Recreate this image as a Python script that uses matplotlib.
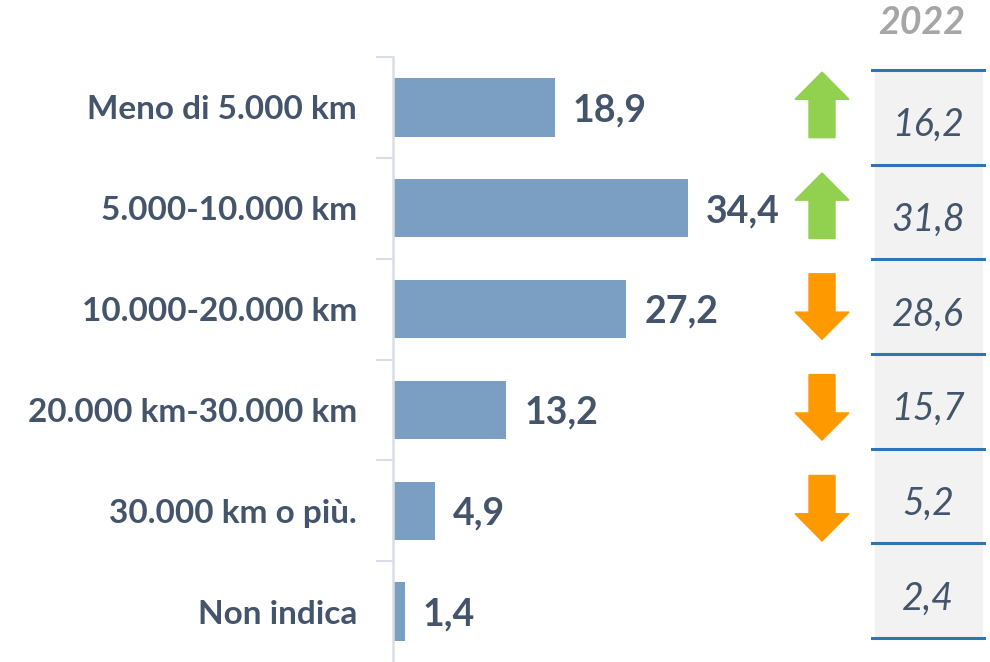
import matplotlib.pyplot as plt
import matplotlib.transforms as mtransforms
from matplotlib.patches import FancyArrow, Rectangle

plt.rcParams['font.family'] = ['Lato', 'DejaVu Sans']

categories = ["Meno di 5.000 km", "5.000-10.000 km", "10.000-20.000 km",
              "20.000 km-30.000 km", "30.000 km o più.", "Non indica"]
values = [18.9, 34.4, 27.2, 13.2, 4.9, 1.4]
values_2022 = [16.2, 31.8, 28.6, 15.7, 5.2, 2.4]
trend = ["up", "up", "down", "down", "down", None]

text_col = "#44546A"
bar_col = "#7A9FC2"
W, H = 990, 662

fig = plt.figure(figsize=(9.9, 6.62), dpi=100)

# main bar axes: left edge at the vertical axis line
ax = fig.add_axes([393 / W, 0, (W - 393) / W, 1 - 57 / H])
y = list(range(len(categories)))
ax.barh(y, values, height=0.58, color=bar_col)
ax.set_xlim(0, (W - 393) / 8.57)
ax.set_ylim(len(categories) - 0.5, -0.5)

for s in ["top", "right", "bottom"]:
    ax.spines[s].set_visible(False)
ax.spines["left"].set_color("#D9DEE6")
ax.spines["left"].set_linewidth(1.8)
ax.set_xticks([])
ax.set_yticks(y)
ax.set_yticklabels(categories, fontsize=24, fontweight="bold", color=text_col)
ax.tick_params(axis="y", which="major", length=0, pad=26)
ax.set_yticks([i - 0.5 for i in y], minor=True)
ax.tick_params(axis="y", which="minor", length=12, width=1.5, color="#D9DEE6")

for i, v in enumerate(values):
    ax.annotate(f"{v:.1f}".replace(".", ","), (v, i), xytext=(13, -2),
                textcoords="offset points", va="center", ha="left",
                fontsize=27, fontweight="bold", color=text_col)

# trend arrows (x in axes fraction, y in category units)
trans = mtransforms.blended_transform_factory(ax.transAxes, ax.transData)
xc = (822 - 393) / (W - 393)
shaft = 26 / (W - 393)
head = 54 / (W - 393)
for i, t in enumerate(trend):
    if t is None:
        continue
    if t == "up":
        arr = FancyArrow(xc, i + 0.30, 0, -0.65, width=shaft, head_width=head,
                         head_length=0.27, length_includes_head=True,
                         color="#92D050", transform=trans, clip_on=False)
    else:
        arr = FancyArrow(xc, i - 0.35, 0, 0.65, width=shaft, head_width=head,
                         head_length=0.27, length_includes_head=True,
                         color="#FF9900", transform=trans, clip_on=False)
    ax.add_patch(arr)

# 2022 comparison column
tx = fig.add_axes([872 / W, 1 - 638 / H, (984 - 872) / W, (638 - 70) / H])
tx.set_xlim(0, 1)
tx.set_ylim(len(categories) - 0.5, -0.5)
tx.axis("off")
tx.add_patch(Rectangle((3 / 112, -0.5), 107 / 112, len(categories),
                       color="#F2F2F2", zorder=0))
for i in range(len(categories) + 1):
    tx.axhline(i - 0.5, color="#2E75B6", linewidth=2.2, zorder=2, clip_on=False)
for i, v in enumerate(values_2022):
    tx.text(0.5, i + 0.08, f"{v:.1f}".replace(".", ","), ha="center", va="center",
            fontsize=27, style="italic", color=text_col)

fig.text(922 / W, 1 - 23 / H, "2022", ha="center", va="center", fontsize=27,
         fontweight="bold", style="italic", color="#A6A6A6")

fig.savefig("out.png", dpi=100)
